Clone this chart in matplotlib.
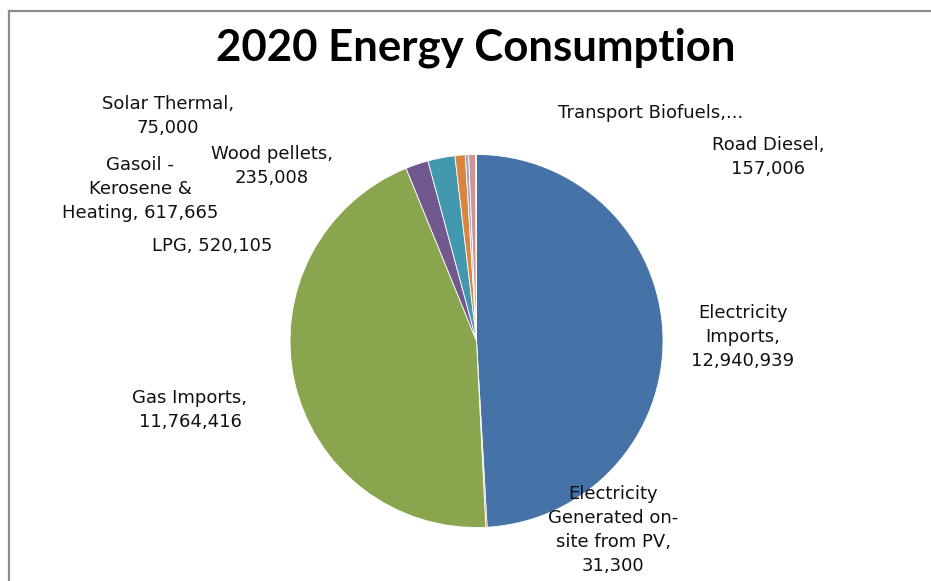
import matplotlib.pyplot as plt
from matplotlib.lines import Line2D

# energy sources, in drawing order (clockwise from 12 o'clock)
sources = ["Electricity Imports", "Electricity Generated on-site from PV", "Gas Imports",
           "LPG", "Gasoil - Kerosene & Heating", "Wood pellets", "Solar Thermal",
           "Road Diesel", "Transport Biofuels"]
consumption = [12940939, 31300, 11764416, 520105, 617665, 235008, 75000, 157006, 20000]
colors = ["#4572A7", "#AA4643", "#89A54E", "#71588F", "#4198AF", "#DB843D",
          "#93A9CF", "#D19392", "#B9CD96"]

# label text and where each sits (pixels from top-left)
label_text = ["Electricity\nImports,\n12,940,939",
              "Electricity\nGenerated on-\nsite from PV,\n31,300",
              "Gas Imports,\n11,764,416",
              "LPG, 520,105",
              "Gasoil -\nKerosene &\nHeating, 617,665",
              "Wood pellets,\n235,008",
              "Solar Thermal,\n75,000",
              "Road Diesel,\n157,006",
              "Transport Biofuels,..."]
label_xy = [(743, 337), (613, 530), (190, 410), (212, 246), (140, 189),
            (272, 166), (168, 116), (768, 157), (651, 113)]

W, H = 931, 581
fig = plt.figure(figsize=(W / 100, H / 100), dpi=100)
fig.patch.set_facecolor("white")

# pie centred at (476, 341) with radius ~186 px
cx, cy, r = 476.5, 341, 186.5
ax = fig.add_axes([(cx - r) / W, 1 - (cy + r) / H, 2 * r / W, 2 * r / H])
ax.pie(consumption, colors=colors, startangle=90, counterclock=False,
       wedgeprops=dict(linewidth=0.6, edgecolor="white"))
ax.set_aspect("auto")
ax.set_xlim(-1, 1)
ax.set_ylim(-1, 1)
ax.axis("off")

fig.text(476 / W, 1 - 48 / H, "2020 Energy Consumption", ha="center", va="center",
         fontsize=31.5, fontweight="bold", family="Lato")

for text, (x, y) in zip(label_text, label_xy):
    fig.text(x / W, 1 - y / H, text, ha="center", va="center", fontsize=13,
             family="DejaVu Sans", linespacing=1.42, color="#111111")

# chart-area border running off the right and bottom
fig.add_artist(Line2D([9 / W, 9 / W], [0, 1 - 11 / H], transform=fig.transFigure,
                      color="#8c8c8c", linewidth=1.6))
fig.add_artist(Line2D([9 / W, 1], [1 - 11 / H, 1 - 11 / H], transform=fig.transFigure,
                      color="#8c8c8c", linewidth=1.6))

fig.savefig("out.png", dpi=100)
